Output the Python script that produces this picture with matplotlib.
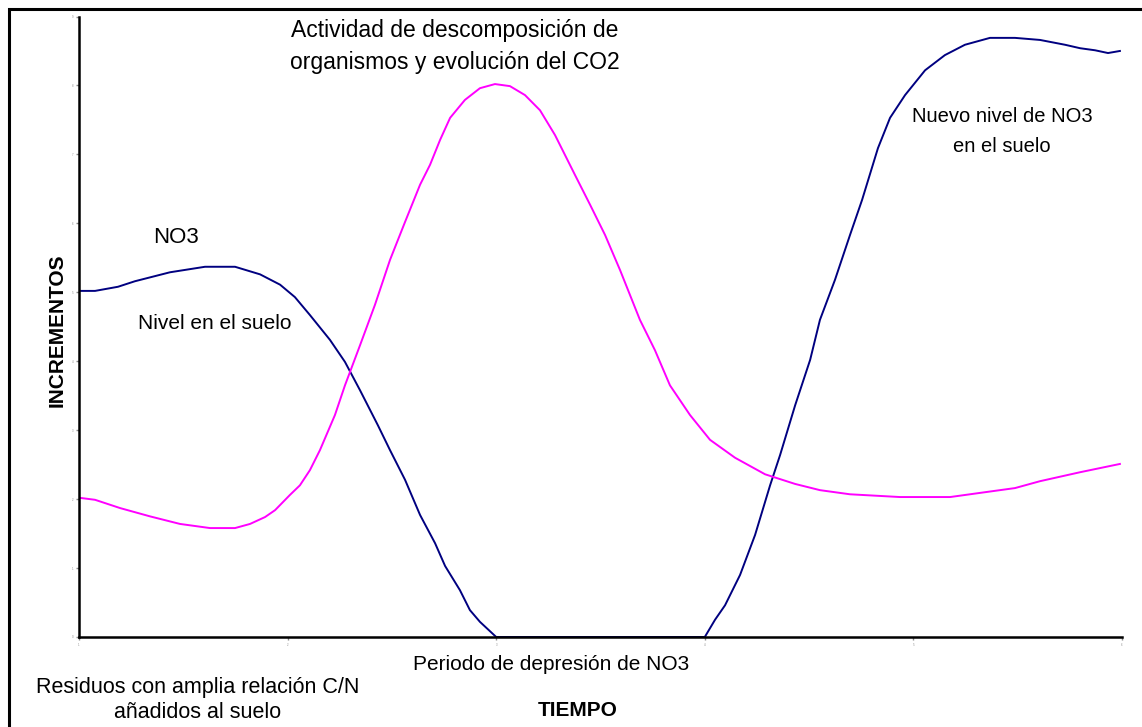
import matplotlib.pyplot as plt
from matplotlib.patches import Rectangle

plt.rcParams['font.family'] = ['Liberation Sans', 'DejaVu Sans']

# NO3 level in the soil
no3_x = [1.0, 1.077, 1.187, 1.268, 1.436, 1.604, 1.748, 1.868, 1.964, 2.035,
         2.107, 2.203, 2.275, 2.347, 2.433, 2.491, 2.563, 2.635, 2.707, 2.755,
         2.826, 2.874, 2.922, 3.0,
         4.0, 4.049, 4.097, 4.169, 4.241, 4.313, 4.361, 4.433, 4.505, 4.552,
         4.624, 4.696, 4.754, 4.830, 4.888, 4.960, 5.056, 5.151, 5.247, 5.367,
         5.487, 5.607, 5.727, 5.799, 5.871, 5.933, 5.990]
no3_y = [5.02, 5.02, 5.08, 5.16, 5.29, 5.37, 5.37, 5.26, 5.11, 4.93,
         4.67, 4.31, 3.99, 3.58, 3.07, 2.71, 2.28, 1.77, 1.36, 1.03,
         0.68, 0.39, 0.22, 0.0,
         0.0, 0.25, 0.46, 0.90, 1.48, 2.20, 2.64, 3.36, 4.02, 4.60,
         5.18, 5.83, 6.34, 7.09, 7.53, 7.86, 8.22, 8.44, 8.59, 8.69,
         8.69, 8.66, 8.59, 8.54, 8.51, 8.47, 8.50]

# decomposition activity / CO2 evolution
co2_x = [1.0, 1.077, 1.197, 1.340, 1.484, 1.628, 1.748, 1.820, 1.892, 1.940,
         2.011, 2.059, 2.107, 2.155, 2.227, 2.275, 2.347, 2.419, 2.491, 2.563,
         2.635, 2.683, 2.731, 2.779, 2.850, 2.922, 2.994, 3.066, 3.138, 3.210,
         3.282, 3.378, 3.450, 3.522, 3.594, 3.689, 3.761, 3.833, 3.929, 4.025,
         4.145, 4.289, 4.433, 4.552, 4.696, 4.936, 5.176, 5.319, 5.487, 5.607,
         5.799, 5.990]
co2_y = [2.02, 1.99, 1.87, 1.75, 1.64, 1.58, 1.58, 1.64, 1.74, 1.84,
         2.06, 2.20, 2.42, 2.71, 3.22, 3.65, 4.23, 4.82, 5.47, 6.02,
         6.56, 6.85, 7.21, 7.53, 7.79, 7.96, 8.02, 7.99, 7.86, 7.64,
         7.28, 6.70, 6.27, 5.83, 5.32, 4.60, 4.16, 3.65, 3.22, 2.86,
         2.60, 2.36, 2.22, 2.13, 2.07, 2.03, 2.03, 2.09, 2.16, 2.26,
         2.39, 2.51]

x_ticks = [1, 2, 3, 4, 5, 6]
y_ticks = [0, 1, 2, 3, 4, 5, 6, 7, 8, 9]

W, H = 1142, 727
fig = plt.figure(figsize=(W / 100, H / 100), dpi=100)
ax = fig.add_axes([79 / W, (H - 637) / H, (1122 - 79) / W, (637 - 16.5) / H])

ax.plot(no3_x, no3_y, color='#000080', lw=1.4)
ax.plot(co2_x, co2_y, color='#ff00ff', lw=1.4)

ax.set_xlim(1, 6)
ax.set_ylim(0, 9)
ax.set_xticks(x_ticks)
ax.set_yticks(y_ticks)
ax.tick_params(length=2, width=1, color='#888888', labelsize=2,
               labelcolor='#888888', pad=2)
for side in ['top', 'right']:
    ax.spines[side].set_visible(False)
for side in ['left', 'bottom']:
    ax.spines[side].set_linewidth(1.8)
    ax.spines[side].set_color('black')


def ftext(px, py, s, **kw):
    kw.setdefault('fontsize', 15)
    fig.text(px / W, 1 - py / H, s, ha='center', va='center', **kw)


ftext(455, 31, 'Actividad de descomposición de', fontsize=16.5)
ftext(455, 62, 'organismos y evolución del CO2', fontsize=16.5)
ftext(176, 238, 'NO3', fontsize=16)
ftext(215, 323, 'Nivel en el suelo')
ftext(1002, 117, 'Nuevo nivel de NO3', fontsize=14.5)
ftext(1002, 147, 'en el suelo', fontsize=14.5)
ftext(551, 665, 'Periodo de depresión de NO3')
ftext(198, 687, 'Residuos con amplia relación C/N', fontsize=15.5)
ftext(198, 712, 'añadidos al suelo', fontsize=15.5)
ftext(578, 711, 'TIEMPO', fontweight='bold')
ftext(57, 330, 'INCREMENTOS', fontweight='bold', rotation=90)

# outer frame of the picture
fig.patches.append(Rectangle((9 / W, -0.1), 1.2, 1.1 - 9 / H, transform=fig.transFigure,
                             fill=False, lw=2.2, edgecolor='black'))

fig.savefig('out.png', dpi=100)
